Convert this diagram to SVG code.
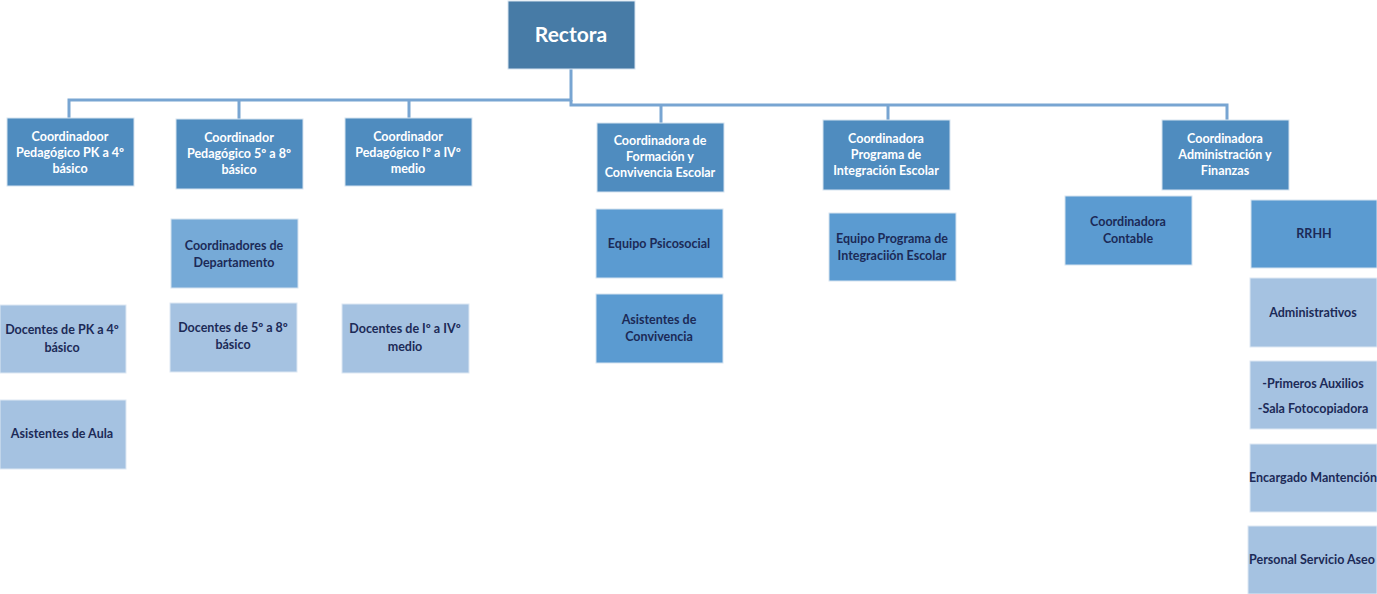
<svg xmlns="http://www.w3.org/2000/svg" width="1377" height="594" viewBox="0 0 1377 594">
<style>
.top rect{fill:#4f8cbf;stroke:#d6e3f0;stroke-width:1}
.mid rect{fill:#5b9bd1;stroke:#d6e3f0;stroke-width:1}
.dep rect{fill:#76aad7;stroke:#d6e3f0;stroke-width:1}
.lt rect{fill:#a5c2e1;stroke:#dde8f3;stroke-width:1}
text{font-family:Lato,"Liberation Sans",sans-serif;font-weight:bold;font-size:12.5px;text-anchor:middle}
.top text{fill:#ffffff}
.mid text,.dep text,.lt text{fill:#1c2a57}
.conn{fill:none;stroke:#78a5d2;stroke-width:3}
</style>
<g id="connectors">
<path class="conn" d="M571,69 V100 H69 V118 M239,100 V119 M409,100 V118"/>
<path class="conn" d="M571,100 V105 H1227 V120 M661,105 V123 M888,105 V120"/>
</g>
<g id="rectora" class="top"><rect x="508" y="1" width="127" height="68" style="fill:#477ba6"/><text x="571" y="42" style="font-size:21px">Rectora</text></g>
<g id="coord-pk4" class="top"><rect x="7" y="118" width="127" height="68"/><text x="70" y="141">Coordinadoor</text><text x="70" y="157">Pedagógico PK a 4º</text><text x="70" y="173">básico</text></g>
<g id="coord-58" class="top"><rect x="176" y="119" width="127" height="70"/><text x="239" y="142">Coordinador</text><text x="239" y="158">Pedagógico 5º a 8º</text><text x="239" y="174">básico</text></g>
<g id="coord-medio" class="top"><rect x="345" y="118" width="127" height="68"/><text x="408" y="141">Coordinador</text><text x="408" y="157">Pedagógico Iº a IVº</text><text x="408" y="173">medio</text></g>
<g id="coord-conv" class="top"><rect x="597" y="123" width="127" height="69"/><text x="660" y="145">Coordinadora de</text><text x="660" y="161">Formación y</text><text x="660" y="177">Convivencia Escolar</text></g>
<g id="coord-pie" class="top"><rect x="823" y="120" width="127" height="70"/><text x="886" y="143">Coordinadora</text><text x="886" y="159">Programa de</text><text x="886" y="175">Integración Escolar</text></g>
<g id="coord-adm" class="top"><rect x="1162" y="120" width="127" height="70"/><text x="1225" y="143">Coordinadora</text><text x="1225" y="159">Administración y</text><text x="1225" y="175">Finanzas</text></g>
<g id="coord-depto" class="dep"><rect x="171" y="219" width="127" height="69"/><text x="234" y="250">Coordinadores de</text><text x="234" y="267">Departamento</text></g>
<g id="doc-pk4" class="lt"><rect x="0" y="305" width="126" height="68"/><text x="62" y="334">Docentes de PK a 4º</text><text x="62" y="352">básico</text></g>
<g id="asist-aula" class="lt"><rect x="0" y="400" width="126" height="69"/><text x="62" y="438">Asistentes de Aula</text></g>
<g id="doc-58" class="lt"><rect x="170" y="303" width="127" height="69"/><text x="233" y="332">Docentes de 5º a 8º</text><text x="233" y="349">básico</text></g>
<g id="doc-medio" class="lt"><rect x="342" y="304" width="127" height="69"/><text x="405" y="333">Docentes de Iº a IVº</text><text x="405" y="351">medio</text></g>
<g id="psicosocial" class="mid"><rect x="596" y="209" width="127" height="69"/><text x="659" y="248">Equipo Psicosocial</text></g>
<g id="asist-conv" class="mid"><rect x="596" y="294" width="127" height="69"/><text x="659" y="324">Asistentes de</text><text x="659" y="341">Convivencia</text></g>
<g id="equipo-pie" class="mid"><rect x="829" y="213" width="127" height="68"/><text x="892" y="243">Equipo Programa de</text><text x="892" y="260">Integraciión Escolar</text></g>
<g id="contable" class="mid"><rect x="1065" y="196" width="127" height="69"/><text x="1128" y="226">Coordinadora</text><text x="1128" y="243">Contable</text></g>
<g id="rrhh" class="mid"><rect x="1251" y="200" width="126" height="68"/><text x="1314" y="238">RRHH</text></g>
<g id="administrativos" class="lt"><rect x="1250" y="278" width="127" height="69"/><text x="1313" y="317">Administrativos</text></g>
<g id="auxilios" class="lt"><rect x="1250" y="361" width="127" height="68"/><text x="1313" y="388">-Primeros Auxilios</text><text x="1313" y="413">-Sala Fotocopiadora</text></g>
<g id="mantencion" class="lt"><rect x="1250" y="444" width="127" height="68"/><text x="1313" y="482">Encargado Mantención</text></g>
<g id="aseo" class="lt"><rect x="1248" y="526" width="129" height="68"/><text x="1312" y="564">Personal Servicio Aseo</text></g>
</svg>
